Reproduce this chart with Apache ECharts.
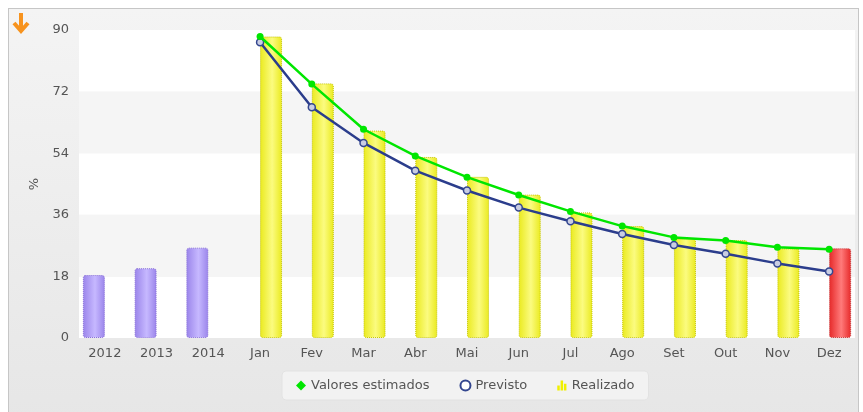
<!DOCTYPE html>
<html>
<head>
<meta charset="utf-8">
<script src="https://cdn.jsdelivr.net/npm/echarts@6/dist/echarts.min.js"></script>
<style>
  html, body { margin: 0; padding: 0; background: #fff; }
  #frame {
    position: absolute; left: 8px; top: 8px; width: 849px; height: 420px;
    border: 1px solid #c6c6c6;
    background: linear-gradient(#f4f4f4, #e6e6e6);
  }
  #chart { position: absolute; left: 0; top: 0; width: 863px; height: 412px; }
</style>
</head>
<body>
<div id="frame"></div>
<div id="chart"></div>
<script>
// categorias do eixo x
const categories = ['2012', '2013', '2014', 'Jan', 'Fev', 'Mar', 'Abr', 'Mai', 'Jun', 'Jul', 'Ago', 'Set', 'Out', 'Nov', 'Dez'];
const yTicks = [0, 18, 36, 54, 72, 90];

// anos anteriores (barras roxas)
const historico = [18.4, 20.4, 26.4, '-', '-', '-', '-', '-', '-', '-', '-', '-', '-', '-', '-'];
// realizado por mes (Dez em vermelho)
const realizado = ['-', '-', '-', 88.1, 74.4, 60.6, 52.9, 47.1, 41.9, 36.7, 32.7, 29.1, 28.6, 26.2, 26.2];
// linhas
const estimados = ['-', '-', '-', 88.1, 74.2, 61.0, 53.2, 47.0, 41.8, 37.0, 32.7, 29.4, 28.5, 26.5, 25.9];
const previsto = ['-', '-', '-', 86.4, 67.4, 57.0, 48.9, 43.1, 38.1, 34.1, 30.4, 27.2, 24.6, 21.8, 19.4];

function barGrad(dark, light) {
  return new echarts.graphic.LinearGradient(0, 0, 1, 0, [
    { offset: 0, color: dark },
    { offset: 0.55, color: light },
    { offset: 1, color: dark }
  ]);
}

const chart = echarts.init(document.getElementById('chart'));

const option = {
  animation: false,
  textStyle: { fontFamily: 'DejaVu Sans' },
  grid: { left: 79, right: 8, top: 30, bottom: 74 },
  graphic: [
    {
      type: 'polyline',
      shape: { points: [[21, 13], [21, 31]] },
      style: { stroke: '#f7931e', lineWidth: 4, fill: null }
    },
    {
      type: 'polyline',
      shape: { points: [[14, 23], [21, 31], [28, 23]] },
      style: { stroke: '#f7931e', lineWidth: 4, fill: null }
    }
  ],
  legend: {
    data: [
      { name: 'Valores estimados', icon: 'diamond', itemStyle: { color: '#00e600' } },
      { name: 'Previsto', icon: 'circle', itemStyle: { color: '#ffffff', borderColor: '#33468f', borderWidth: 2 } },
      { name: 'Realizado', icon: 'path://M0,6h3v6h-3z M4,0h3v12h-3z M8,4h3v8h-3z', itemStyle: { color: '#f0f000', borderWidth: 0 } }
    ],
    left: 282,
    bottom: 12,
    itemWidth: 10,
    itemHeight: 10,
    itemGap: 30,
    padding: [8, 14],
    backgroundColor: '#f2f2f2',
    borderColor: '#e2e2e2',
    borderWidth: 1,
    borderRadius: 4,
    textStyle: { color: '#555', fontSize: 13 }
  },
  xAxis: {
    type: 'category',
    data: categories,
    axisLine: { show: false },
    axisTick: { show: false },
    axisLabel: { color: '#555', fontSize: 13, margin: 9 }
  },
  yAxis: {
    type: 'value',
    min: 0,
    max: 90,
    interval: 18,
    name: '%',
    nameLocation: 'middle',
    nameGap: 29,
    nameTextStyle: { color: '#555', fontSize: 13 },
    axisLine: { show: false },
    axisTick: { show: false },
    axisLabel: {
      color: '#555', fontSize: 13, margin: 10,
      formatter: v => yTicks.includes(v) ? String(v) : ''
    },
    splitLine: { show: false },
    splitArea: { show: true, areaStyle: { color: ['#ffffff', '#f5f5f5'] } }
  },
  series: [
    {
      name: 'Histórico',
      type: 'bar',
      data: historico,
      barWidth: 22,
      barGap: '0%',
      itemStyle: {
        color: barGrad('#9a84ea', '#c6b8ff'),
        borderColor: '#8a72d8',
        borderWidth: 1,
        borderType: 'dotted',
        borderRadius: 2
      }
    },
    {
      name: 'Realizado',
      type: 'bar',
      barWidth: 22,
      data: realizado.map((v, i) => i === realizado.length - 1 ? {
        value: v,
        itemStyle: {
          color: barGrad('#e62828', '#ff7a7a'),
          borderColor: '#c84040'
        }
      } : v),
      itemStyle: {
        color: barGrad('#eaea1e', '#fbfb80'),
        borderColor: '#c4c400',
        borderWidth: 1,
        borderType: 'dotted',
        borderRadius: 2
      }
    },
    {
      name: 'Previsto',
      type: 'line',
      data: previsto,
      symbol: 'circle',
      symbolSize: 7,
      lineStyle: { color: '#2b3d8c', width: 2.5 },
      itemStyle: { color: '#c9cde2', borderColor: '#33468f', borderWidth: 1.5 },
      z: 3
    },
    {
      name: 'Valores estimados',
      type: 'line',
      data: estimados,
      symbol: 'circle',
      symbolSize: 7,
      lineStyle: { color: '#00e600', width: 2.5 },
      itemStyle: { color: '#00e600' },
      z: 4
    }
  ]
};

chart.setOption(option);
</script>
</body>
</html>
